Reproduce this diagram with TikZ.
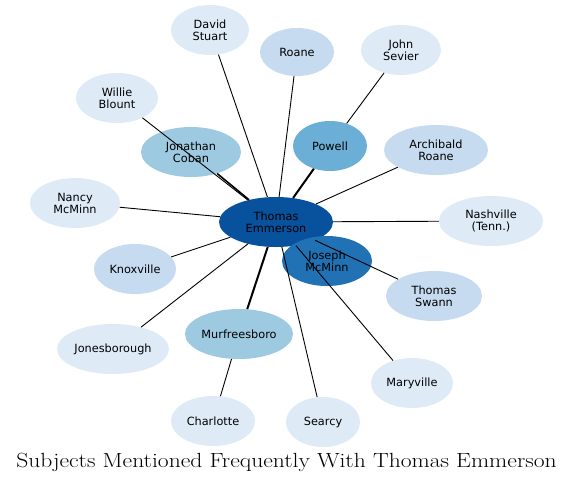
\documentclass[tikz,border=0pt]{standalone}
\usepackage{fontspec}
\newfontfamily\dv{DejaVu Sans}
\usetikzlibrary{shapes.geometric}
\definecolor{cA}{HTML}{08519C}
\definecolor{cB}{HTML}{2171B5}
\definecolor{cC}{HTML}{6BAED6}
\definecolor{cD}{HTML}{9ECAE1}
\definecolor{cE}{HTML}{C6DBEF}
\definecolor{cF}{HTML}{DEEBF7}
\tikzset{
  subj/.style={ellipse, inner sep=0pt, draw=none, align=center,
    font=\dv\fontsize{11.3}{12}\selectfont, text=black},
  edge/.style={draw=black, line width=0.9pt},
}
\begin{document}
\begin{tikzpicture}[x=1pt,y=-1pt]
\useasboundingbox (0,0) rectangle (573,483);
\fill[white] (0,0) rectangle (573,483);
\newcommand{\nd}[6]{\node[subj, fill=#4, minimum width=#5pt, minimum height=#6pt] (#1) at #2 {#3};}
\nd{c}{(276,222)}{Thomas\\Emmerson}{cA}{114}{50}
\nd{ds}{(210,30)}{David\\Stuart}{cF}{78}{50}
\nd{ro}{(297,52)}{Roane}{cE}{74}{48}
\nd{js}{(401,50)}{John\\Sevier}{cF}{80}{50}
\nd{wb}{(117,98)}{Willie\\Blount}{cF}{82}{50}
\nd{jc}{(191,152)}{Jonathan\\Coban}{cD}{100}{50}
\nd{pw}{(330,146)}{Powell}{cC}{74}{50}
\nd{ar}{(436,150)}{Archibald\\Roane}{cE}{104}{50}
\nd{nm}{(75,203)}{Nancy\\McMinn}{cF}{90}{50}
\nd{na}{(491,221)}{Nashville\\(Tenn.)}{cF}{104}{50}
\nd{jm}{(327,261)}{Joseph\\McMinn}{cB}{90}{50}
\nd{kn}{(135,269)}{Knoxville}{cE}{82}{50}
\nd{ts}{(434,296)}{Thomas\\Swann}{cE}{96}{50}
\nd{jb}{(113,349)}{Jonesborough}{cF}{112}{50}
\nd{mu}{(239,334)}{Murfreesboro}{cD}{108}{50}
\nd{ma}{(412,383)}{Maryville}{cF}{82}{50}
\nd{ch}{(213,421)}{Charlotte}{cF}{84}{50}
\nd{se}{(323,422)}{Searcy}{cF}{74}{50}
\foreach \t in {ds,ro,wb,ar,nm,na,kn,ts,jb,ma,se}
  \draw[edge] (c) -- (\t);
\draw[edge] (pw) -- (js);
\draw[edge] (mu) -- (ch);
\draw[edge, line width=1.6pt] (c) -- (jc);
\draw[edge, line width=2pt] (c) -- (pw);
\draw[edge, line width=2pt] (c) -- (mu);
\node[anchor=base, font=\fontsize{20.5}{24}\selectfont] (title) at (286.5,467) {\scalebox{1.15}[1]{Subjects Mentioned Frequently With Thomas Emmerson}};
\end{tikzpicture}
\end{document}
